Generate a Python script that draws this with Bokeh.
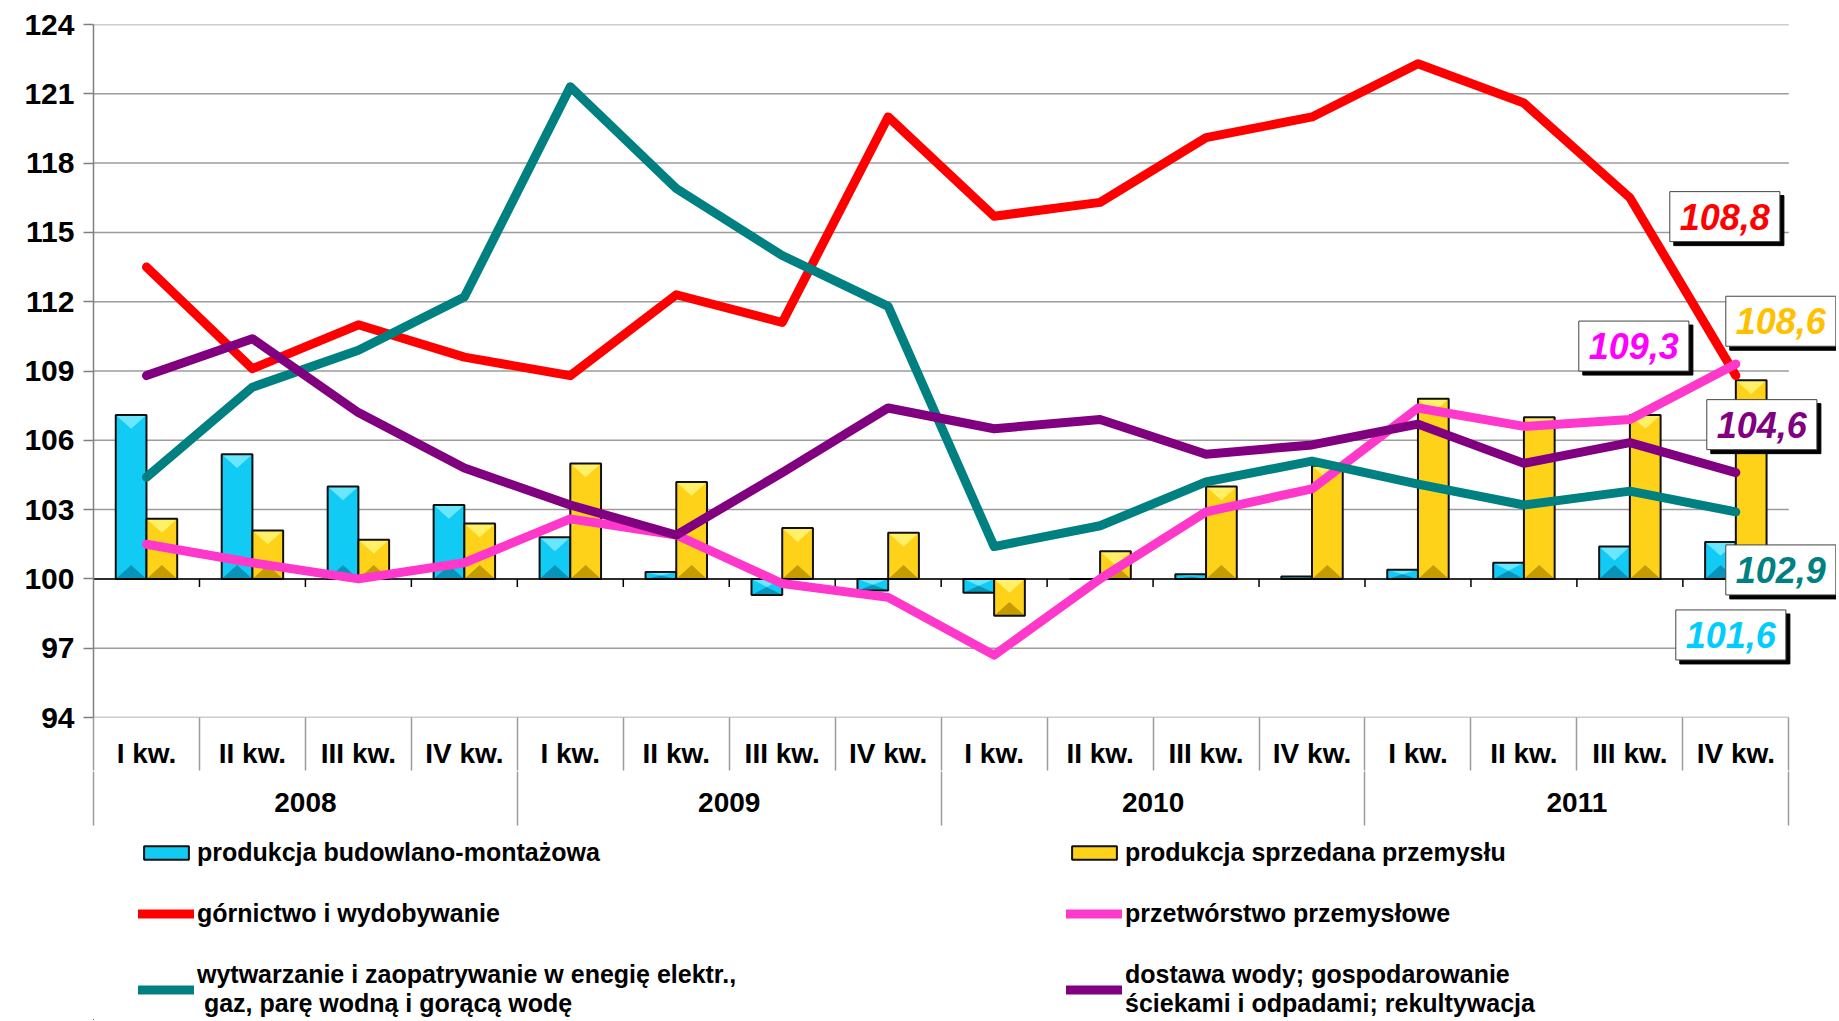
import numpy as np
from bokeh.plotting import figure
from bokeh.layouts import column
from bokeh.models import (Range1d, LinearAxis, FixedTicker, Label, Legend, LegendItem)
from bokeh.embed import file_html
from bokeh.resources import INLINE

# ---------------- data ----------------
years = ["2008", "2009", "2010", "2011"]
quarters = ["I kw.", "II kw.", "III kw.", "IV kw."]

budowlano = [107.1, 105.4, 104.0, 103.2, 101.8, 100.3, 99.3, 99.5,
             99.4, 100.0, 100.2, 100.1, 100.4, 100.7, 101.4, 101.6]
sprzedana = [102.6, 102.1, 101.7, 102.4, 105.0, 104.2, 102.2, 102.0,
             98.4, 101.2, 104.0, 104.9, 107.8, 107.0, 107.1, 108.6]
gornictwo = [113.5, 109.1, 111.0, 109.6, 108.8, 112.3, 111.1, 120.0,
             115.7, 116.3, 119.1, 120.0, 122.3, 120.6, 116.5, 108.8]
przetworstwo = [101.5, 100.7, 100.0, 100.7, 102.6, 101.9, 99.8, 99.2,
                96.7, 100.0, 102.9, 103.9, 107.4, 106.6, 106.9, 109.3]
wytwarzanie = [104.4, 108.3, 109.9, 112.2, 121.3, 116.9, 114.0, 111.8,
               101.4, 102.3, 104.2, 105.1, 104.1, 103.2, 103.8, 102.9]
dostawa = [108.8, 110.4, 107.2, 104.8, 103.2, 101.9, 104.6, 107.4,
           106.5, 106.9, 105.4, 105.8, 106.7, 105.0, 105.9, 104.6]

y_ticks = [94, 97, 100, 103, 106, 109, 112, 115, 118, 121, 124]
base_value = 100

names = {
    "bud": "produkcja budowlano-montażowa",
    "spr": "produkcja sprzedana przemysłu",
    "gor": "górnictwo i wydobywanie",
    "prz": "przetwórstwo przemysłowe",
    "wyt": "wytwarzanie i zaopatrywanie w enegię elektr.,\n gaz, parę wodną i gorącą wodę",
    "dos": "dostawa wody; gospodarowanie\nściekami i odpadami; rekultywacja",
}

# ---------------- styling ----------------
FONT = "Liberation Sans"
C_CYAN = "#12CBF5"
C_GOLD = "#FFD21A"
C_RED = "#FF0000"
C_PINK = "#FF38CC"
C_TEAL = "#008080"
C_PURPLE = "#800080"
GRID = "#9C9C9C"
BAR_LINE = dict(line_color="#111111", line_width=2)
LINE_KW = dict(line_width=9, line_cap="round", line_join="round")

n = len(gornictwo)
centers = np.arange(n) + 0.5
bounds = np.arange(n + 1)
bw = 0.29

p = figure(width=1836, height=828, x_range=Range1d(0, 16.45), y_range=Range1d(94, 124),
           output_backend="svg", toolbar_location=None, x_axis_type=None,
           min_border_left=93, min_border_right=0, min_border_top=24, min_border_bottom=111)
p.outline_line_color = None
p.background_fill_color = "white"
p.border_fill_color = "white"
p.ygrid.visible = False

# y axis
yax = p.yaxis[0]
yax.ticker = FixedTicker(ticks=y_ticks, minor_ticks=[])
yax.major_label_text_font = FONT
yax.major_label_text_font_style = "bold"
yax.major_label_text_font_size = "30px"
yax.major_label_text_color = "black"
yax.axis_line_color = "#808080"
yax.axis_line_width = 1.5
yax.major_tick_line_color = "#808080"
yax.major_tick_line_width = 1.5
yax.major_tick_out = 10
yax.major_tick_in = 0
yax.minor_tick_line_color = None
yax.major_label_standoff = 9

# horizontal grid lines (only across the category area)
p.segment(x0=0, y0=y_ticks, x1=n, y1=y_ticks, line_color=GRID, line_width=1.5)

def cat_axis(ticks, labels, minor, tick_len):
    ax = LinearAxis(ticker=FixedTicker(ticks=ticks, minor_ticks=minor),
                    major_label_overrides=labels)
    ax.axis_line_color = None
    ax.major_tick_line_color = None
    ax.major_tick_out = 0
    ax.major_tick_in = 0
    ax.minor_tick_line_color = GRID
    ax.minor_tick_line_width = 1.5
    ax.minor_tick_out = tick_len
    ax.minor_tick_in = 0
    ax.major_label_standoff = -33
    ax.major_label_text_font = FONT
    ax.major_label_text_font_style = "bold"
    ax.major_label_text_font_size = "28px"
    ax.major_label_text_color = "black"
    return ax

q_labels = {float(c): quarters[i % 4] for i, c in enumerate(centers)}
p.add_layout(cat_axis([float(c) for c in centers], q_labels, [float(b) for b in bounds], 53), "below")
y_centers = [2.0 + 4 * k for k in range(len(years))]
y_labels = {float(c): years[k] for k, c in enumerate(y_centers)}
p.add_layout(cat_axis(y_centers, y_labels, [0.0, 4.0, 8.0, 12.0, 16.0], 54), "below")

# bars with a simple bevel (light top wedge, dark bottom wedge)
def bevel_bars(xc, vals, fill, light, dark):
    vals = np.asarray(vals, dtype=float)
    hi = np.maximum(vals, base_value)
    lo = np.minimum(vals, base_value)
    p.vbar(x=xc, width=bw, bottom=base_value, top=vals, fill_color=fill, line_color=None)
    d = np.minimum(0.6, (hi - lo) / 2)
    xl, xr = xc - bw / 2, xc + bw / 2
    tops_x = [[a, b, c] for a, b, c in zip(xl, xr, xc)]
    p.patches(xs=tops_x, ys=[[h, h, h - dd] for h, dd in zip(hi, d)],
              fill_color=light, line_color=None)
    p.patches(xs=tops_x, ys=[[l, l, l + dd] for l, dd in zip(lo, d)],
              fill_color=dark, line_color=None)
    p.vbar(x=xc, width=bw, bottom=base_value, top=vals, fill_color=None, **BAR_LINE)

bevel_bars(centers - bw / 2, budowlano, C_CYAN, "#6BE6FF", "#0A93B8")
bevel_bars(centers + bw / 2, sprzedana, C_GOLD, "#FFF067", "#C49B00")

# category axis line at 100 with small ticks
p.segment(x0=0, y0=base_value, x1=n, y1=base_value, line_color="black", line_width=1.5)
p.segment(x0=bounds[1:-1], y0=base_value, x1=bounds[1:-1], y1=base_value - 0.35,
          line_color="black", line_width=1.5)

# lines
p.line(centers, gornictwo, line_color=C_RED, **LINE_KW)
p.line(centers, przetworstwo, line_color=C_PINK, **LINE_KW)
p.line(centers, wytwarzanie, line_color=C_TEAL, **LINE_KW)
p.line(centers, dostawa, line_color=C_PURPLE, **LINE_KW)

# end value labels
last = n - 0.5
def vlabel(val, col, dx, dy):
    txt = f"{val:.1f}".replace(".", ",")
    common = dict(x=last, y=val, text=txt, text_font=FONT, text_font_style="bold italic",
                  text_font_size="36px", text_align="center", text_baseline="middle",
                  padding=(10, 12))
    p.add_layout(Label(x_offset=dx + 4, y_offset=dy - 4, text_color="black",
                       background_fill_color="black", border_line_color="black", **common))
    p.add_layout(Label(x_offset=dx, y_offset=dy, text_color=col,
                       background_fill_color="white", border_line_color="#444444",
                       border_line_width=1, **common))

vlabel(gornictwo[-1], C_RED, -11, 159)
vlabel(sprzedana[-1], "#FFC000", 45, 59)
vlabel(przetworstwo[-1], "#FF00FF", -102, 18)
vlabel(dostawa[-1], C_PURPLE, 26, 48)
vlabel(wytwarzanie[-1], C_TEAL, 45, -58)
vlabel(budowlano[-1], "#00CCFF", -5, -93)

# ---------------- legend strip ----------------
p2 = figure(width=1836, height=192, x_range=Range1d(0, 1), y_range=Range1d(0, 1),
            output_backend="svg", toolbar_location=None, x_axis_type=None, y_axis_type=None,
            min_border_left=93, min_border_right=0, min_border_top=0, min_border_bottom=0)
p2.outline_line_color = None
p2.background_fill_color = "white"
p2.border_fill_color = "white"

# off-screen stand-ins that carry the legend swatch styles
off = [-10.0, -9.0]
l_bud = p2.vbar(x=off, width=0.1, bottom=off, top=off, fill_color=C_CYAN, **BAR_LINE)
l_spr = p2.vbar(x=off, width=0.1, bottom=off, top=off, fill_color=C_GOLD, **BAR_LINE)
l_gor = p2.line(x=off, y=off, line_color=C_RED, **LINE_KW)
l_prz = p2.line(x=off, y=off, line_color=C_PINK, **LINE_KW)
l_wyt = p2.line(x=off, y=off, line_color=C_TEAL, **LINE_KW)
l_dos = p2.line(x=off, y=off, line_color=C_PURPLE, **LINE_KW)

legend = Legend(items=[LegendItem(label=names["bud"], renderers=[l_bud]),
                       LegendItem(label=names["gor"], renderers=[l_gor]),
                       LegendItem(label=names["wyt"], renderers=[l_wyt]),
                       LegendItem(label=names["spr"], renderers=[l_spr]),
                       LegendItem(label=names["prz"], renderers=[l_prz]),
                       LegendItem(label=names["dos"], renderers=[l_dos])],
                orientation="vertical", ncols=2, location=(45, 2),
                background_fill_alpha=0, border_line_color=None, margin=0, padding=0,
                spacing=32, glyph_width=56, glyph_height=17, label_standoff=3,
                label_width=837,
                label_text_font=FONT, label_text_font_style="bold",
                label_text_font_size="25px", label_text_color="black")
p2.add_layout(legend)

open("out.html", "w").write(file_html(column(p, p2, spacing=0), INLINE))
